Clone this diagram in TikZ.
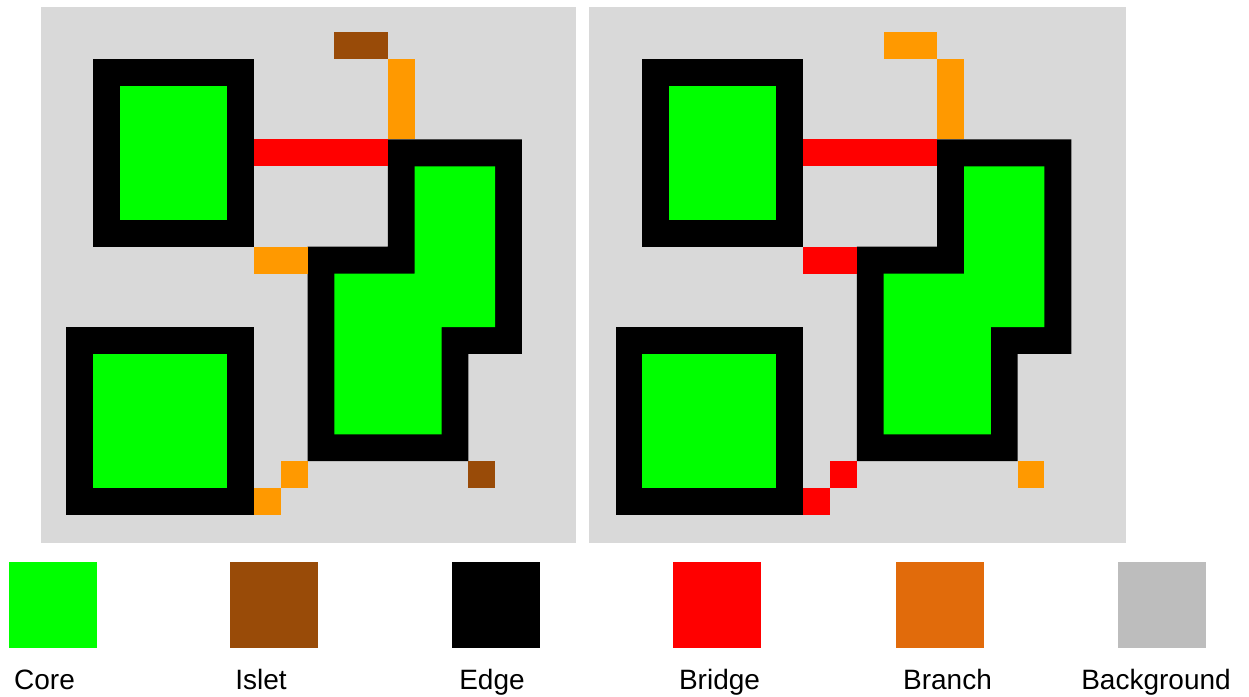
\documentclass[tikz,border=0pt]{standalone}
\usepackage{fontspec}
\setmainfont{Liberation Sans}
\definecolor{panelbg}{HTML}{D9D9D9}
\definecolor{corec}{HTML}{00FF00}
\definecolor{isletc}{HTML}{994B08}
\definecolor{bridgec}{HTML}{FF0000}
\definecolor{branchc}{HTML}{FF9900}
\definecolor{branchleg}{HTML}{E16B0B}
\definecolor{bgleg}{HTML}{BDBDBD}
\tikzset{
  legbox/.style={inner sep=0pt, minimum width=88pt, minimum height=86pt},
  leglabel/.style={anchor=base, inner sep=0pt, font=\fontsize{28pt}{30pt}\selectfont},
  gridscope/.style={x=26.81pt, y=-26.81pt}
}
\begin{document}
\begin{tikzpicture}[x=1pt, y=-1pt]
\useasboundingbox[fill=white] (0,0) rectangle (1249,696);
% panels
\fill[panelbg] (41,7) rectangle (576,543);
\fill[panelbg] (589,7) rectangle (1126,543);
% left panel
\begin{scope}[shift={(39.4pt,-5.4pt)}, gridscope]
  \fill[black] (2,2) rectangle (8,9);
  \fill[corec] (3,3) rectangle (7,8);
  \fill[black] (13,5) -- (18,5) -- (18,13) -- (16,13) -- (16,17) -- (10,17) -- (10,9) -- (13,9) -- cycle;
  \fill[corec] (14,6) -- (17,6) -- (17,12) -- (15,12) -- (15,16) -- (11,16) -- (11,10) -- (14,10) -- cycle;
  \fill[black] (1,12) rectangle (8,19);
  \fill[corec] (2,13) rectangle (7,18);
  \fill[isletc] (11,1) rectangle (13,2);
  \fill[branchc] (13,2) rectangle (14,5);
  \fill[bridgec] (8,5) rectangle (13,6);
  \fill[branchc] (8,9) rectangle (10,10);
  \fill[branchc] (9,17) rectangle (10,18);
  \fill[branchc] (8,18) rectangle (9,19);
  \fill[isletc] (16,17) rectangle (17,18);
\end{scope}
% right panel
\begin{scope}[shift={(588.7pt,-5.4pt)}, gridscope]
  \fill[black] (2,2) rectangle (8,9);
  \fill[corec] (3,3) rectangle (7,8);
  \fill[black] (13,5) -- (18,5) -- (18,13) -- (16,13) -- (16,17) -- (10,17) -- (10,9) -- (13,9) -- cycle;
  \fill[corec] (14,6) -- (17,6) -- (17,12) -- (15,12) -- (15,16) -- (11,16) -- (11,10) -- (14,10) -- cycle;
  \fill[black] (1,12) rectangle (8,19);
  \fill[corec] (2,13) rectangle (7,18);
  \fill[branchc] (11,1) rectangle (13,2);
  \fill[branchc] (13,2) rectangle (14,5);
  \fill[bridgec] (8,5) rectangle (13,6);
  \fill[bridgec] (8,9) rectangle (10,10);
  \fill[bridgec] (9,17) rectangle (10,18);
  \fill[bridgec] (8,18) rectangle (9,19);
  \fill[branchc] (16,17) rectangle (17,18);
\end{scope}
% legend
\node[legbox, fill=corec] (lcore) at (53,605) {};
\node[legbox, fill=isletc] (lislet) at (273.5,605) {};
\node[legbox, fill=black] (ledge) at (495.5,605) {};
\node[legbox, fill=bridgec] (lbridge) at (717,605) {};
\node[legbox, fill=branchleg] (lbranch) at (940,605) {};
\node[legbox, fill=bgleg] (lbg) at (1162,605) {};
\node[leglabel] (tcore) at (44.5,689) {Core};
\node[leglabel] (tislet) at (261,689) {Islet};
\node[leglabel] (tedge) at (492,689) {Edge};
\node[leglabel] (tbridge) at (719.5,689) {Bridge};
\node[leglabel] (tbranch) at (947.5,689) {Branch};
\node[leglabel] (tbg) at (1156,689) {Background};
\end{tikzpicture}
\end{document}
